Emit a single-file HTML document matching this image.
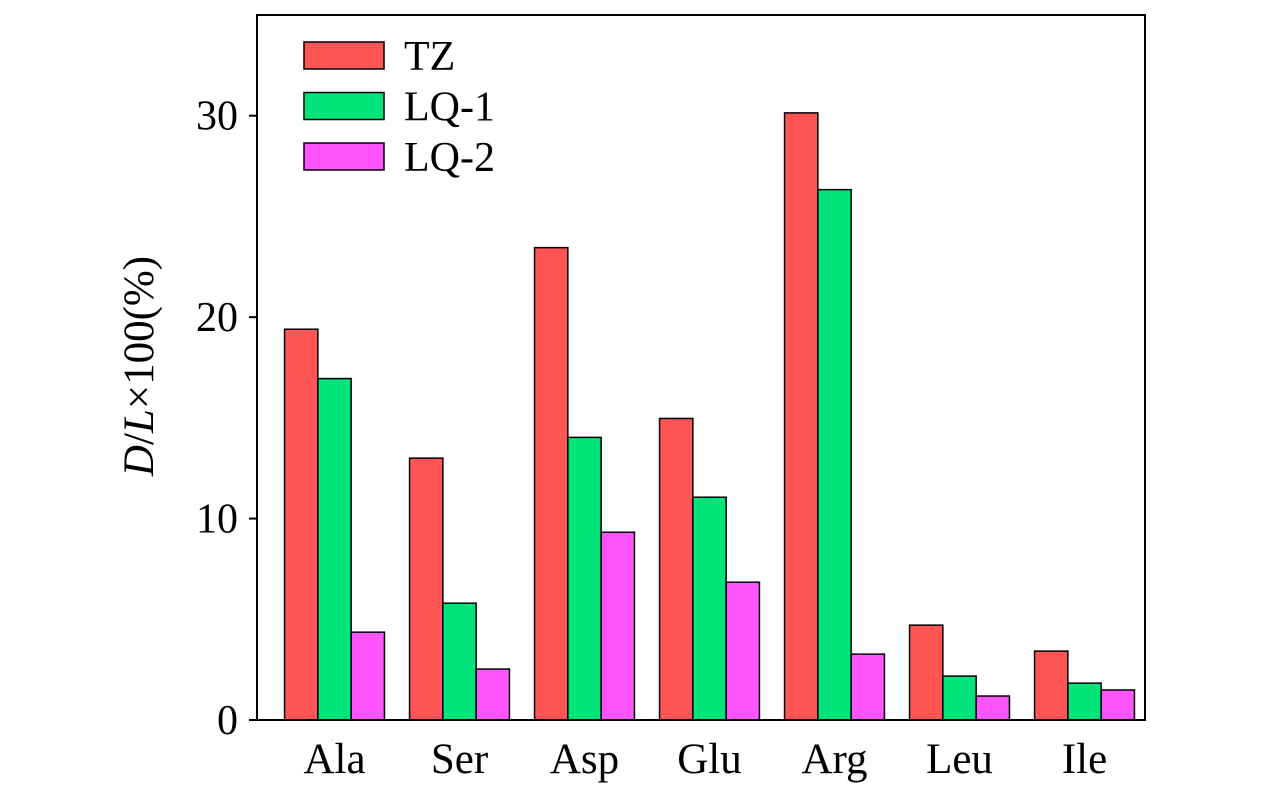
<!DOCTYPE html>
<html><head><meta charset="utf-8"><style>
body{margin:0;background:#fff}
svg text{font-family:"Liberation Serif",serif;fill:#000}
</style></head><body>
<svg id="chart" width="1276" height="787" style="position:absolute;left:0;top:0">
<g id="bars"></g>
<g id="axes"></g>
<text transform="translate(153,366) rotate(-90)" text-anchor="middle" font-size="43"><tspan font-style="italic">D</tspan>/<tspan font-style="italic">L</tspan>×100(%)</text>
</svg>
<script>
const categories=["Ala","Ser","Asp","Glu","Arg","Leu","Ile"];
const seriesNames=["TZ","LQ-1","LQ-2"];
const tzValues=[19.4,13.0,23.45,14.97,30.14,4.71,3.42];
const lq1Values=[16.95,5.8,14.03,11.06,26.33,2.18,1.83];
const lq2Values=[4.36,2.53,9.32,6.84,3.27,1.19,1.49];
const yTicks=[0,10,20,30];
const colors=["#FF5555","#00E47A","#FF55FF"];
const L=257,R=1145,T=15,B=720,yMax=35;
const x0=334.5,step=125,bw=33.3;
function y(v){return B-(v/yMax)*(B-T);}
function xc(i){return x0+i*step;}
const NS="http://www.w3.org/2000/svg";
function mk(t,a,p){const e=document.createElementNS(NS,t);for(const k in a)e.setAttribute(k,a[k]);p.appendChild(e);return e;}
const bars=document.getElementById('bars'),axes=document.getElementById('axes');
const series=[tzValues,lq1Values,lq2Values];
series.forEach((vals,s)=>{vals.forEach((v,i)=>{
 const r=mk('rect',{x:xc(i)-1.5*bw+s*bw,y:y(v),width:bw,height:B-y(v),fill:colors[s],stroke:'#000','stroke-width':1.5},bars);
 
 
});});
const fr=mk('rect',{x:L,y:T,width:R-L,height:B-T,fill:'none',stroke:'#000','stroke-width':2},axes);


yTicks.forEach(v=>{
 mk('line',{x1:L-8,x2:L,y1:y(v),y2:y(v),stroke:'#000','stroke-width':2},axes);
 const t=mk('text',{x:L-19,y:y(v)+14,'text-anchor':'end','font-size':42},axes);t.textContent=v;
 
 
});
categories.forEach((c,i)=>{
 const t=mk('text',{x:xc(i),y:773,'text-anchor':'middle','font-size':43},axes);t.textContent=c;
 
 
});
seriesNames.forEach((n,s)=>{
 const yy=42+s*50.5;
 const r=mk('rect',{x:304,y:yy,width:80,height:27,fill:colors[s],stroke:'#000','stroke-width':1.5},axes);
 
 
 const t=mk('text',{x:404,y:yy+28,'font-size':42},axes);t.textContent=n;
 
 
});
</script>
</body></html>
